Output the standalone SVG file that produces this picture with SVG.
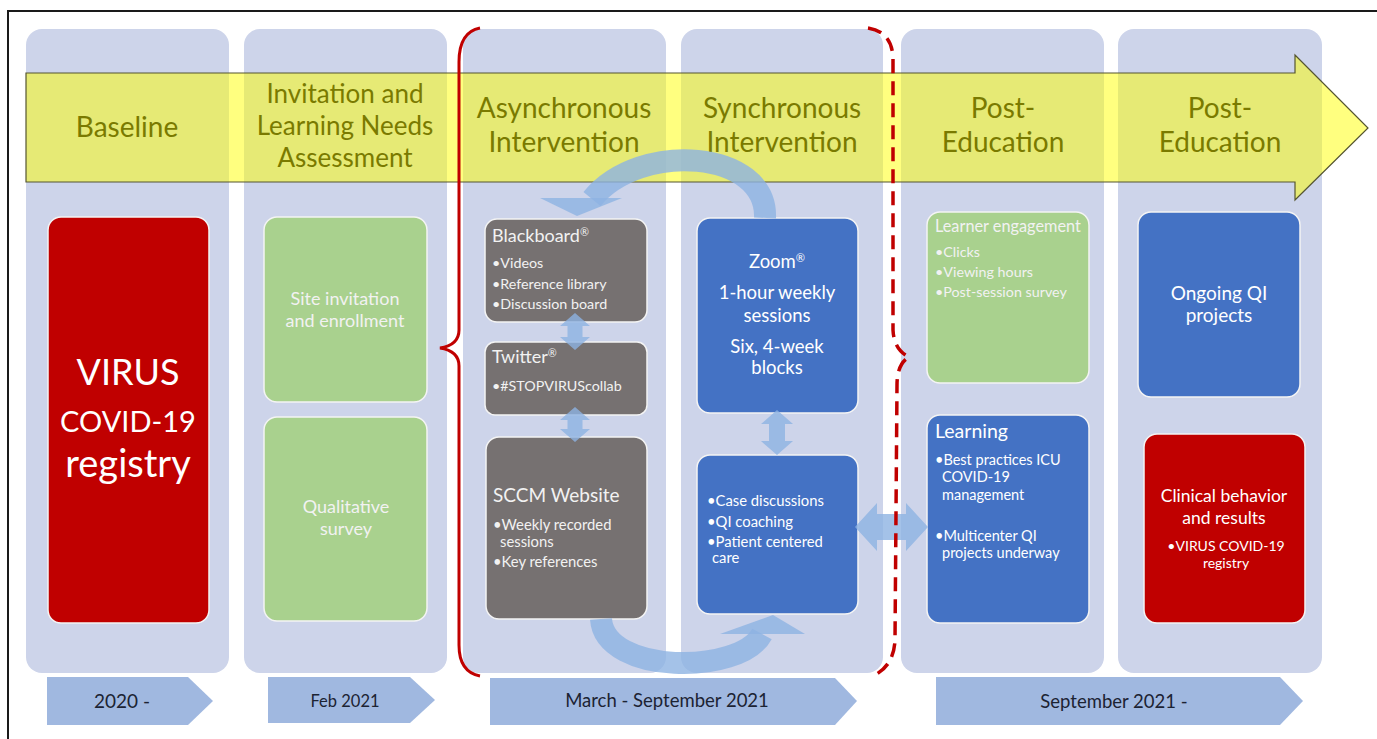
<svg xmlns="http://www.w3.org/2000/svg" width="1377" height="739" viewBox="0 0 1377 739">
<style>
text{font-family:Lato,"Open Sans","Liberation Sans",sans-serif}
.col{fill:#CDD4EA}
.hdr{fill:#7A7A00;text-anchor:middle}
.red{fill:#C00000;stroke:#F4F4F4;stroke-width:1.5}
.grn{fill:#A9D18E;stroke:#F4F4F4;stroke-width:1.5}
.gry{fill:#767171;stroke:#F4F4F4;stroke-width:1.5}
.blu{fill:#4472C4;stroke:#F4F4F4;stroke-width:1.5}
.wt{fill:#FFFFFF}
.lt{fill:#F2F2F2}
.mid{text-anchor:middle}
.sup{font-size:60%;baseline-shift:super}
.conn{fill:#8DB3E2;fill-opacity:0.8}
.cs{fill:none;stroke:#8DB3E2;stroke-opacity:0.8;stroke-width:22}
.date{fill:#A0B8E0}
.dt{fill:#1C2333;text-anchor:middle}
</style>
<rect x="0" y="0" width="1377" height="739" fill="#FFFFFF"/>
<path d="M 8 739 L 8 11 L 1377 11" fill="none" stroke="#1A1A1A" stroke-width="2"/>

<g id="columns">
<rect class="col" x="26" y="29" width="203" height="644" rx="16"/>
<rect class="col" x="244" y="29" width="203" height="644" rx="16"/>
<rect class="col" x="463" y="29" width="203" height="644" rx="16"/>
<rect class="col" x="681" y="29" width="202" height="644" rx="16"/>
<rect class="col" x="901" y="29" width="203" height="644" rx="16"/>
<rect class="col" x="1118" y="29" width="204" height="644" rx="16"/>
</g>

<g id="timeline">
<path d="M 26 73 L 1295 73 L 1295 55 L 1368 128 L 1295 200 L 1295 182 L 26 182 Z" fill="#FFFF00" fill-opacity="0.5" stroke="#555530" stroke-width="1.2"/>
<text class="hdr" x="127" y="137" font-size="28">Baseline</text>
<text class="hdr" x="345" y="103" font-size="26">Invitation and</text>
<text class="hdr" x="345" y="135" font-size="26">Learning Needs</text>
<text class="hdr" x="345" y="167" font-size="26">Assessment</text>
<text class="hdr" x="564" y="118" font-size="28">Asynchronous</text>
<text class="hdr" x="564" y="152" font-size="28">Intervention</text>
<text class="hdr" x="782" y="118" font-size="28">Synchronous</text>
<text class="hdr" x="782" y="152" font-size="28">Intervention</text>
<text class="hdr" x="1003" y="118" font-size="28">Post-</text>
<text class="hdr" x="1003" y="152" font-size="28">Education</text>
<text class="hdr" x="1220" y="118" font-size="28">Post-</text>
<text class="hdr" x="1220" y="152" font-size="28">Education</text>
</g>

<g id="virus-registry">
<rect class="red" x="48" y="217" width="161" height="406" rx="13"/>
<text class="wt mid" x="128" y="385" font-size="36">VIRUS</text>
<text class="wt mid" x="128" y="432" font-size="29">COVID-19</text>
<text class="wt mid" x="128" y="477" font-size="38">registry</text>
</g>

<g id="site-invitation">
<rect class="grn" x="264" y="217" width="163" height="185" rx="13"/>
<text class="lt mid" x="345" y="305" font-size="18">Site invitation</text>
<text class="lt mid" x="345" y="327" font-size="18">and enrollment</text>
</g>

<g id="qualitative-survey">
<rect class="grn" x="264" y="417" width="163" height="204" rx="13"/>
<text class="lt mid" x="346" y="513" font-size="18">Qualitative</text>
<text class="lt mid" x="346" y="535" font-size="18">survey</text>
</g>

<g id="blackboard">
<rect class="gry" x="485" y="219" width="162" height="103" rx="12"/>
<text class="lt" x="492" y="242" font-size="18">Blackboard<tspan class="sup">®</tspan></text>
<text class="lt" x="492" y="268" font-size="14.3">•Videos</text>
<text class="lt" x="492" y="289" font-size="14.3">•Reference library</text>
<text class="lt" x="492" y="309" font-size="14.3">•Discussion board</text>
</g>

<g id="twitter">
<rect class="gry" x="485" y="342" width="162" height="73" rx="10"/>
<text class="lt" x="492" y="363" font-size="18">Twitter<tspan class="sup">®</tspan></text>
<text class="lt" x="492" y="391" font-size="14.3">•#STOPVIRUScollab</text>
</g>

<g id="sccm-website">
<rect class="gry" x="486" y="437" width="161" height="182" rx="13"/>
<text class="lt" x="493" y="502" font-size="19">SCCM Website</text>
<text class="lt" x="493" y="530" font-size="14.8">•Weekly recorded</text>
<text class="lt" x="500" y="547" font-size="14.8">sessions</text>
<text class="lt" x="493" y="567" font-size="14.8">•Key references</text>
</g>

<g id="zoom-sessions">
<rect class="blu" x="697" y="218" width="161" height="195" rx="13"/>
<text class="wt mid" x="777" y="268" font-size="18.5">Zoom<tspan class="sup">®</tspan></text>
<text class="wt mid" x="777" y="299" font-size="18.5">1-hour weekly</text>
<text class="wt mid" x="777" y="322" font-size="18.5">sessions</text>
<text class="wt mid" x="777" y="353" font-size="18.5">Six, 4-week</text>
<text class="wt mid" x="777" y="374" font-size="18.5">blocks</text>
</g>

<g id="sync-activities">
<rect class="blu" x="697" y="455" width="161" height="159" rx="13"/>
<text class="wt" x="707" y="506" font-size="14.8">•Case discussions</text>
<text class="wt" x="707" y="527" font-size="14.8">•QI coaching</text>
<text class="wt" x="707" y="547" font-size="14.8">•Patient centered</text>
<text class="wt" x="712" y="563" font-size="14.8">care</text>
</g>

<g id="learner-engagement">
<rect class="grn" x="927" y="212" width="162" height="171" rx="13"/>
<text class="lt" x="935" y="232" font-size="16.3">Learner engagement</text>
<text class="lt" x="935" y="257" font-size="14.3">•Clicks</text>
<text class="lt" x="935" y="277" font-size="14.3">•Viewing hours</text>
<text class="lt" x="935" y="297" font-size="14.3">•Post-session survey</text>
</g>

<g id="learning">
<rect class="blu" x="927" y="415" width="162" height="208" rx="13"/>
<text class="wt" x="935" y="438" font-size="19.5">Learning</text>
<text class="wt" x="935" y="465" font-size="14.5">•Best practices ICU</text>
<text class="wt" x="942" y="482" font-size="14.5">COVID-19</text>
<text class="wt" x="942" y="500" font-size="14.5">management</text>
<text class="wt" x="935" y="541" font-size="14.5">•Multicenter QI</text>
<text class="wt" x="942" y="558" font-size="14.5">projects underway</text>
</g>

<g id="ongoing-qi">
<rect class="blu" x="1138" y="212" width="162" height="185" rx="13"/>
<text class="wt mid" x="1219" y="300" font-size="19">Ongoing QI</text>
<text class="wt mid" x="1219" y="322" font-size="19">projects</text>
</g>

<g id="clinical-behavior">
<rect class="red" x="1144" y="434" width="161" height="189" rx="13"/>
<text class="wt mid" x="1224" y="502" font-size="17.5">Clinical behavior</text>
<text class="wt mid" x="1224" y="524" font-size="17.5">and results</text>
<text class="wt mid" x="1226" y="551" font-size="14">•VIRUS COVID-19</text>
<text class="wt mid" x="1226" y="568" font-size="14">registry</text>
</g>

<g id="connectors">
<path class="cs" d="M 765 218 C 768 150, 640 140, 592 199"/>
<polygon class="conn" points="540,198 622,198 577,216"/>
<path class="cs" d="M 601 619 C 605 675, 740 675, 762 634"/>
<polygon class="conn" points="720,634 805,634 773,615"/>
<polygon class="conn" points="575,313 590,326 582.5,326 582.5,337 590,337 575,350 560,337 567.5,337 567.5,326 560,326"/>
<polygon class="conn" points="575,407 590,420 582.5,420 582.5,429 590,429 575,442 560,429 567.5,429 567.5,420 560,420"/>
<polygon class="conn" points="777,410 793,424 785,424 785,441 793,441 777,455 761,441 769,441 769,424 761,424"/>
<polygon class="conn" points="855,527 877,503 877,514 906,514 906,503 928,527 906,551 906,540 877,540 877,551"/>
</g>

<g id="brackets" fill="none" stroke="#C00000">
<path d="M 480 28 Q 459 32 459 62 L 459 330 Q 459 345 440 348 Q 459 351 459 366 L 459 645 Q 459 672 480 676" stroke-width="3"/>
<path d="M 868 28 Q 893 32 893 60 L 893 330 Q 894 350 909 357 Q 897 364 897 385 L 895 640 Q 894 666 873 676" stroke-width="3.5" stroke-dasharray="14 8"/>
</g>

<g id="dates">
<path class="date" d="M 47 677 L 188 677 L 213 701 L 188 725 L 47 725 Z"/>
<text class="dt" x="122" y="708" font-size="19">2020 -</text>
<path class="date" d="M 268 677 L 410 677 L 435 700 L 410 723 L 268 723 Z"/>
<text class="dt" x="345" y="707" font-size="16.5">Feb 2021</text>
<path class="date" d="M 490 678 L 835 678 L 857 701 L 835 725 L 490 725 Z"/>
<text class="dt" x="667" y="707" font-size="18.5">March - September 2021</text>
<path class="date" d="M 936 677 L 1280 677 L 1303 701 L 1280 725 L 936 725 Z"/>
<text class="dt" x="1114" y="708" font-size="18.5">September 2021 -</text>
</g>
</svg>
